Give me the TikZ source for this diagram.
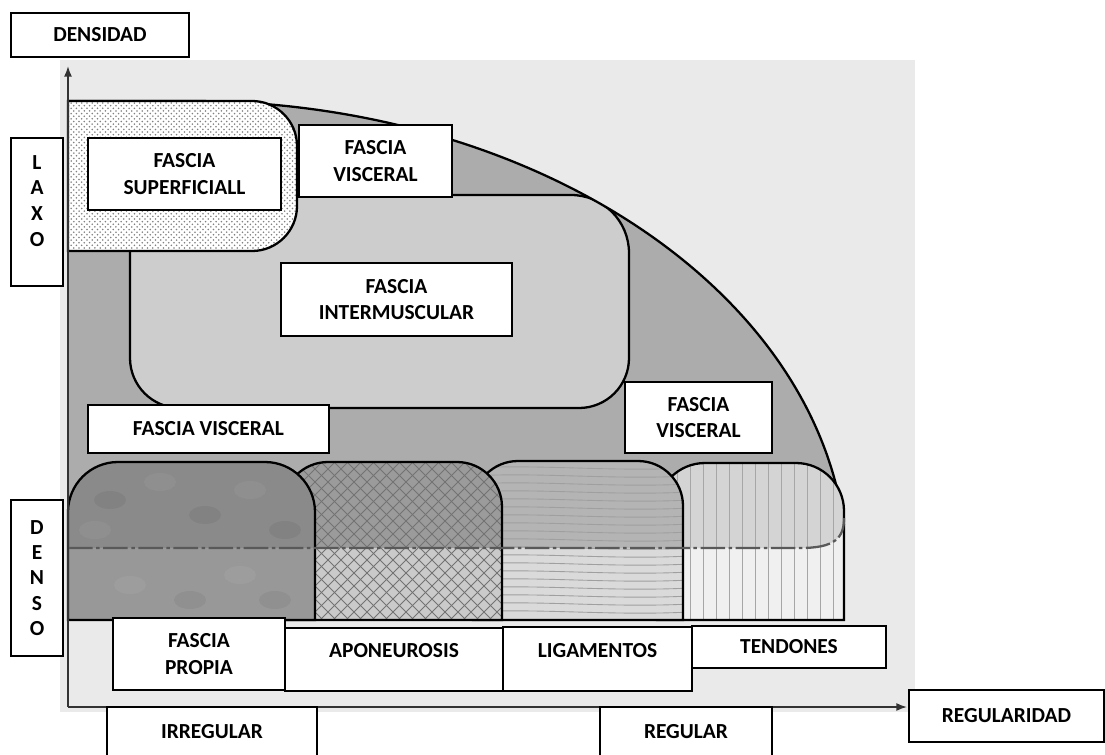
\documentclass[tikz,border=0pt]{standalone}
\usepackage{fontspec}
\setmainfont{Carlito}
\usetikzlibrary{patterns,positioning,arrows.meta}

\tikzset{
  caja/.style={draw=black, line width=1pt, fill=white, align=center, inner sep=0pt,
    font=\bfseries\fontsize{12.2}{15.3}\selectfont},
  borde/.style={draw=black, line width=1.3pt},
  eje/.style={draw=black!80, line width=0.9pt, -{Latex[length=6pt,width=4.5pt]}},
}

\begin{document}
\begin{tikzpicture}[x=0.02cm, y=-0.02cm]
    % Definir colores para las zonas
    \definecolor{fondo}{RGB}{234,234,234}
    \definecolor{gexterior}{RGB}{172,172,172}
    \definecolor{gintermus}{RGB}{205,205,205}
    \definecolor{propiaA}{RGB}{138,138,138}
    \definecolor{propiaB}{RGB}{152,152,152}
    \definecolor{aponA}{RGB}{155,155,155}
    \definecolor{aponB}{RGB}{202,202,202}
    \definecolor{ligA}{RGB}{180,180,180}
    \definecolor{ligB}{RGB}{218,218,218}
    \definecolor{tenA}{RGB}{212,212,212}
    \definecolor{tenB}{RGB}{240,240,240}

    \useasboundingbox (0,0) rectangle (1105,754);

    % Panel de fondo
    \fill[fondo] (60,60) rectangle (915,712);

    % Zona gris exterior (fascia visceral)
    \fill[gexterior] (68,101) -- (190,101)
        arc[start angle=-90, end angle=-5.5, x radius=657, y radius=469]
        -- (844,620) -- (68,620) -- cycle;

    % Fascia intermuscular (recortada por el contorno)
    \begin{scope}
        \clip (68,101) -- (190,101)
            arc[start angle=-90, end angle=-5.5, x radius=657, y radius=469]
            -- (844,620) -- (68,620) -- cycle;
        \draw[borde, fill=gintermus] (130,195) -- (571,195)
            arc[start angle=-90, end angle=0, radius=58] -- (629,358)
            arc[start angle=0, end angle=90, radius=50] -- (180,408)
            arc[start angle=90, end angle=180, radius=50] -- cycle;
    \end{scope}

    % Contorno exterior
    \draw[borde] (68,101) -- (190,101)
        arc[start angle=-90, end angle=-5.5, x radius=657, y radius=469];

    % Fascia superficial (punteada)
    \draw[borde, preaction={fill=white}, pattern=crosshatch dots, pattern color=gray]
        (68,101) -- (252,101) arc[start angle=-90, end angle=0, radius=45]
        -- (297,206) arc[start angle=0, end angle=90, radius=45]
        -- (68,251) -- cycle;

    % Tendones (lineas verticales)
    \begin{scope}
        \clip (657,620) -- (657,511) arc[start angle=180, end angle=270, radius=48]
            -- (796,463) arc[start angle=-90, end angle=0, radius=48] -- (844,620) -- cycle;
        \fill[tenB] (650,450) rectangle (850,625);
        \fill[tenA] (650,450) -- (850,450) -- (850,518) -- (844,518)
            .. controls (844,538) and (835,548) .. (800,548) -- (650,548) -- cycle;
        \foreach \x in {664,677,...,840}
            \draw[gray!70, line width=0.5pt] (\x,455) -- (\x,625);
    \end{scope}
    \draw[borde] (657,620) -- (657,511) arc[start angle=180, end angle=270, radius=48]
        -- (796,463) arc[start angle=-90, end angle=0, radius=48] -- (844,620) -- cycle;

    % Ligamentos (lineas horizontales)
    \begin{scope}
        \clip (473,620) -- (473,506) arc[start angle=180, end angle=270, radius=45]
            -- (638,461) arc[start angle=-90, end angle=0, radius=45] -- (683,620) -- cycle;
        \fill[ligB] (465,450) rectangle (690,625);
        \fill[ligA] (465,450) rectangle (690,548);
        \foreach \y in {468,476,...,616}
            \draw[gray!75, line width=0.5pt] (470,\y) .. controls (540,\y-4) and (610,\y+4) .. (690,\y);
    \end{scope}
    \draw[borde] (473,620) -- (473,506) arc[start angle=180, end angle=270, radius=45]
        -- (638,461) arc[start angle=-90, end angle=0, radius=45] -- (683,620) -- cycle;

    % Aponeurosis (cuadricula diagonal)
    \begin{scope}
        \clip (283,620) -- (283,507) arc[start angle=180, end angle=270, radius=45]
            -- (457,462) arc[start angle=-90, end angle=0, radius=45] -- (502,620) -- cycle;
        \fill[aponB] (275,450) rectangle (510,625);
        \fill[aponA] (275,450) rectangle (510,548);
        \foreach \a in {120,133,...,670} {
            \draw[black!55, line width=0.5pt] (\a,625) -- ++(170,-170);
            \draw[black!55, line width=0.5pt] (\a,625) -- ++(-170,-170);
        }
    \end{scope}
    \draw[borde] (283,620) -- (283,507) arc[start angle=180, end angle=270, radius=45]
        -- (457,462) arc[start angle=-90, end angle=0, radius=45] -- (502,620) -- cycle;

    % Fascia propia (moteada)
    \begin{scope}
        \clip (68,620) -- (68,512) arc[start angle=180, end angle=270, radius=50]
            -- (265,462) arc[start angle=-90, end angle=0, radius=50] -- (315,620) -- cycle;
        \fill[propiaB] (60,450) rectangle (320,625);
        \fill[propiaA] (60,450) rectangle (320,548);
        \foreach \p/\c in {(110,500)/black,(160,482)/white,(205,515)/black,(250,490)/white,
                           (130,585)/white,(190,600)/black,(240,575)/white,(285,530)/black,
                           (95,530)/white,(275,600)/black}
            \fill[\c, opacity=0.05] \p ellipse[x radius=16, y radius=9];
    \end{scope}
    \draw[borde] (68,620) -- (68,512) arc[start angle=180, end angle=270, radius=50]
        -- (265,462) arc[start angle=-90, end angle=0, radius=50] -- (315,620) -- cycle;

    % Linea de transicion (trazo y punto)
    \draw[black!65, line width=1.3pt, dash pattern=on 14pt off 2pt on 2pt off 2pt]
        (68,548) -- (800,548) .. controls (835,548) and (844,538) .. (844,518);

    % Ejes
    \coordinate (origen) at (68,707);
    \coordinate (ytope) at (68,66);
    \coordinate (xtope) at (907,707);
    \draw[eje] (origen) -- (ytope);
    \draw[eje] (origen) -- (xtope);

    % Etiquetas
    \node[caja, minimum width=3.56cm, minimum height=0.88cm] (densidad) at (100,35) {DENSIDAD};
    \node[caja, minimum width=1.04cm, minimum height=2.96cm, font=\bfseries\fontsize{12.2}{14.7}\selectfont] (laxo) at (37,212) {L\\A\\X\\O\\[-2pt]\mbox{}};
    \node[caja, minimum width=1.04cm, minimum height=3.12cm, font=\bfseries\fontsize{12.2}{14.3}\selectfont] (denso) at (37,578) {D\\E\\N\\S\\O};
    \node[caja, minimum width=3.86cm, minimum height=1.44cm] (fsup) at (184.5,174) {FASCIA\\SUPERFICIALL};
    \node[caja, minimum width=3.06cm, minimum height=1.44cm] (fvis1) at (375.5,161) {FASCIA\\VISCERAL};
    \node[caja, minimum width=4.62cm, minimum height=1.46cm] (finter) at (396.5,299.5) {FASCIA\\INTERMUSCULAR};
    \node[caja, minimum width=4.82cm, minimum height=0.96cm] (fvis2) at (208.5,429) {FASCIA VISCERAL};
    \node[caja, minimum width=2.94cm, minimum height=1.42cm] (fvis3) at (698.5,417.5) {FASCIA\\VISCERAL};
    \node[caja, minimum width=3.44cm, minimum height=1.44cm] (fpropia) at (199,654) {FASCIA\\PROPIA};
    \node[caja, minimum width=4.36cm, anchor=north, text height=0.59cm, text depth=0.67cm] (apon) at (394,627) {APONEUROSIS};
    \node[caja, minimum width=3.78cm, anchor=north, text height=0.61cm, text depth=0.67cm] (ligam) at (597.5,626) {LIGAMENTOS};
    \node[caja, minimum width=3.88cm, minimum height=0.84cm] (tend) at (789,647) {TENDONES};
    \node[caja, minimum width=4.2cm, minimum height=1.0cm] (irreg) at (212,732) {IRREGULAR};
    \node[caja, minimum width=3.44cm, minimum height=1.0cm] (regul) at (686,732) {REGULAR};
    \node[caja, minimum width=3.9cm, minimum height=1.04cm] (regularidad) at (1006.5,716) {REGULARIDAD};
\end{tikzpicture}
\end{document}
